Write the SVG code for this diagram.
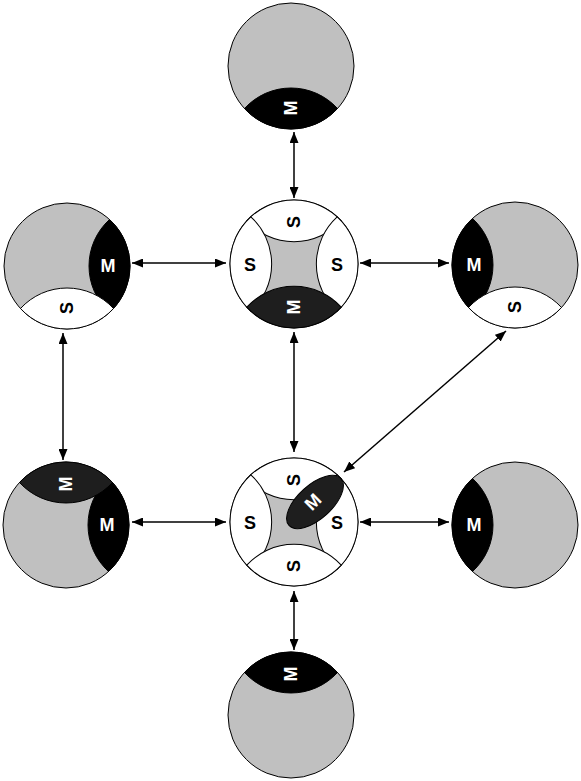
<svg xmlns="http://www.w3.org/2000/svg" width="581" height="781" viewBox="0 0 581 781">
<style>
.disc{fill:#c0c0c0;stroke:#000;stroke-width:1}
.ws{fill:#fff;stroke:#000;stroke-width:1}
.bm{fill:#000;stroke:#000;stroke-width:1}
.dm{fill:#1e1e1e;stroke:#000;stroke-width:1}
.lw{font-family:"Liberation Sans",Arial,sans-serif;font-weight:bold;font-size:18px;fill:#fff;text-anchor:middle;dominant-baseline:central}
.lb{font-family:"Liberation Sans",Arial,sans-serif;font-weight:bold;font-size:18px;fill:#000;text-anchor:middle;dominant-baseline:central}
.conn{stroke:#000;stroke-width:1.5;fill:none;marker-start:url(#ah);marker-end:url(#ah)}
</style>
<defs>
<marker id="ah" markerUnits="userSpaceOnUse" markerWidth="11" markerHeight="9" refX="11" refY="4.5" orient="auto-start-reverse">
<path d="M0,0 L11,4.5 L0,9 Z" fill="#000"/>
</marker>
<path id="lens" d="M -46.5 42.5 A 63 63 0 0 0 46.5 42.5 A 63 63 0 0 0 -46.5 42.5 Z"/>
</defs>
<rect width="581" height="781" fill="#fff"/>

<g id="top">
<circle class="disc" cx="291" cy="66" r="63"/>
<use href="#lens" class="bm" transform="translate(291 66)"/>
<text class="lw" x="291" y="108" transform="rotate(-90 291 108)">M</text>
</g>

<g id="left">
<circle class="disc" cx="67" cy="266" r="63"/>
<use href="#lens" class="bm" transform="translate(67 266) rotate(-90)"/>
<use href="#lens" class="ws" transform="translate(67 266)"/>
<text class="lw" x="108" y="266">M</text>
<text class="lb" x="67" y="308" transform="rotate(-90 67 308)">S</text>
</g>

<g id="centertop">
<circle class="disc" cx="294" cy="264" r="64"/>
<use href="#lens" class="ws" transform="translate(294 264) rotate(180) scale(1.016)"/>
<use href="#lens" class="ws" transform="translate(294 264) rotate(90) scale(1.016)"/>
<use href="#lens" class="ws" transform="translate(294 264) rotate(-90) scale(1.016)"/>
<use href="#lens" class="dm" transform="translate(294 264) scale(1.016)"/>
<text class="lb" x="294" y="222" transform="rotate(-90 294 222)">S</text>
<text class="lb" x="250" y="265">S</text>
<text class="lb" x="337" y="265">S</text>
<text class="lw" x="294" y="307" transform="rotate(-90 294 307)">M</text>
</g>

<g id="right">
<circle class="disc" cx="515" cy="265" r="63"/>
<use href="#lens" class="bm" transform="translate(515 265) rotate(90)"/>
<use href="#lens" class="ws" transform="translate(515 265)"/>
<text class="lw" x="474" y="265">M</text>
<text class="lb" x="515" y="307" transform="rotate(-90 515 307)">S</text>
</g>

<g id="leftbottom">
<circle class="disc" cx="66" cy="525" r="63"/>
<use href="#lens" class="bm" transform="translate(66 525) rotate(-90)"/>
<use href="#lens" class="dm" transform="translate(66 525) rotate(180)"/>
<text class="lw" x="66" y="484" transform="rotate(-90 66 484)">M</text>
<text class="lw" x="107" y="525">M</text>
</g>

<g id="centerbottom">
<circle class="disc" cx="294" cy="522" r="64"/>
<use href="#lens" class="ws" transform="translate(294 522) rotate(180) scale(1.016)"/>
<use href="#lens" class="ws" transform="translate(294 522) rotate(90) scale(1.016)"/>
<use href="#lens" class="ws" transform="translate(294 522) rotate(-90) scale(1.016)"/>
<use href="#lens" class="ws" transform="translate(294 522) scale(1.016)"/>
<text class="lb" x="294" y="480" transform="rotate(-90 294 480)">S</text>
<text class="lb" x="250" y="523">S</text>
<text class="lb" x="337" y="523">S</text>
<text class="lb" x="294" y="566" transform="rotate(-90 294 566)">S</text>
<ellipse cx="315" cy="502" rx="35" ry="17" fill="#1e1e1e" stroke="#000" stroke-width="1" transform="rotate(-42 315 502)"/>
<text class="lw" x="313" y="502" transform="rotate(-45 313 502)">M</text>
</g>

<g id="rightbottom">
<circle class="disc" cx="515" cy="525" r="63"/>
<use href="#lens" class="bm" transform="translate(515 525) rotate(90)"/>
<text class="lw" x="474" y="525">M</text>
</g>

<g id="bottom">
<circle class="disc" cx="291" cy="715" r="63"/>
<use href="#lens" class="bm" transform="translate(291 715) rotate(180)"/>
<text class="lw" x="291" y="674" transform="rotate(-90 291 674)">M</text>
</g>

<g id="connectors">
<line class="conn" x1="294" y1="132" x2="294" y2="198"/>
<line class="conn" x1="132" y1="263" x2="226" y2="263"/>
<line class="conn" x1="360" y1="263" x2="449" y2="263"/>
<line class="conn" x1="63" y1="333" x2="63" y2="460"/>
<line class="conn" x1="294" y1="332" x2="294" y2="452"/>
<line class="conn" x1="506" y1="331" x2="344" y2="472"/>
<line class="conn" x1="132" y1="522" x2="226" y2="522"/>
<line class="conn" x1="360" y1="522" x2="449" y2="522"/>
<line class="conn" x1="294" y1="591" x2="294" y2="650"/>
</g>
</svg>
